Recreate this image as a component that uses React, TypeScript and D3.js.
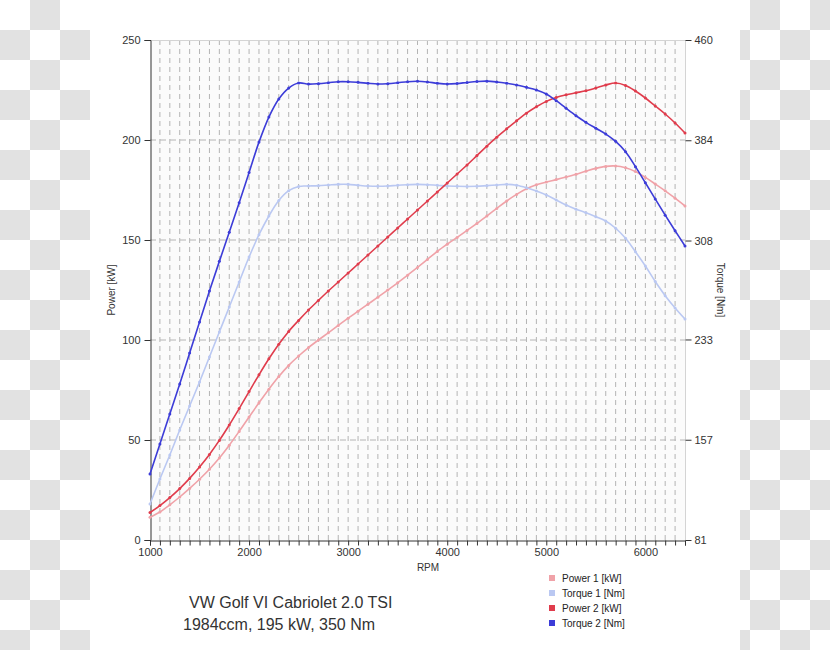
import React, { useEffect, useRef } from "react";
import * as d3 from "d3";

// engine speed, every 100 rpm
const rpm = [
  1000, 1100, 1200, 1300, 1400, 1500, 1600, 1700, 1800, 1900,
  2000, 2100, 2200, 2300, 2400, 2500, 2600, 2700, 2800, 2900,
  3000, 3100, 3200, 3300, 3400, 3500, 3600, 3700, 3800, 3900,
  4000, 4100, 4200, 4300, 4400, 4500, 4600, 4700, 4800, 4900,
  5000, 5100, 5200, 5300, 5400, 5500, 5600, 5700, 5800, 5900,
  6000, 6100, 6200, 6300, 6400,
];

// kW
const power1 = [
  11.4, 14, 17.6, 21.5, 25.8, 30.4, 35.4, 41, 47.4, 54.3,
  61.5, 68.6, 75.4, 81.7, 87.3, 92, 96.2, 100, 103.6, 107.3,
  110.9, 114.4, 117.9, 121.4, 125, 128.6, 132.4, 136.3, 140.3, 144.3,
  147.9, 151.3, 154.8, 158.3, 162, 165.8, 169.5, 172.8, 175.6, 177.6,
  179, 180.2, 181.5, 182.9, 184.4, 185.8, 186.8, 187, 186.1, 184.2,
  181.3, 178, 174.6, 170.9, 167,
];

// Nm
const torque1 = [
  108.3, 127.2, 145.4, 164.4, 182.6, 200.8, 219.7, 238.7, 257.6, 276.6,
  295.5, 312.4, 326.6, 338.3, 345.8, 349, 349.3, 349.6, 350.1, 350.6,
  350.6, 349.9, 349.3, 349.1, 349.3, 349.9, 350.3, 350.6, 350.3, 349.9,
  349.3, 349.1, 349, 349.1, 349.6, 350.1, 350.6, 349.9, 348, 345.5,
  342.5, 338.7, 334.9, 331.7, 329.1, 326.1, 322.8, 317.3, 309.7, 299.5,
  288.7, 276.9, 266.2, 256.9, 248.5,
];

// kW
const power2 = [
  13.7, 17.2, 21.2, 25.7, 30.8, 36.5, 42.8, 49.8, 57.5, 65.7,
  74.2, 82.6, 90.6, 97.9, 104.3, 109.8, 115, 119.8, 124.5, 129,
  133.5, 138, 142.5, 147, 151.5, 156, 160.5, 165, 169.5, 174,
  178.5, 183, 187.5, 192.2, 196.9, 201.4, 205.6, 209.6, 213.4, 216.6,
  219.3, 221.3, 222.6, 223.6, 224.6, 226, 227.5, 228.5, 227.3, 224.5,
  221, 217, 213, 208.5, 203.5,
];

// Nm
const torque2 = [
  131, 153.8, 176.5, 199.2, 222.7, 246.2, 269.7, 292.2, 314.2, 336.6,
  359.6, 382.6, 401.6, 415.3, 423.6, 427.4, 426.6, 426.9, 427.6, 428.4,
  428.4, 427.9, 427.2, 426.6, 426.9, 427.6, 428.4, 428.7, 428.2, 427.2,
  426.6, 427, 427.8, 428.5, 428.8, 428.2, 427.2, 425.9, 424.1, 422.1,
  419.1, 414, 408.2, 402.6, 397.6, 393.1, 388.7, 383.2, 375.3, 364,
  351.8, 339.4, 327.2, 315.4, 303.9,
];

const powerTicks = [0, 50, 100, 150, 200, 250];
const torqueTicks = [81, 157, 233, 308, 384, 460];
const rpmTicks = [1000, 2000, 3000, 4000, 5000, 6000];

const seriesNames = ["Power 1 [kW]", "Torque 1 [Nm]", "Power 2 [kW]", "Torque 2 [Nm]"];
const seriesColors = ["#f0a2a8", "#bac8f2", "#e03c4c", "#3c3cd8"];

const titleLines = ["VW Golf VI Cabriolet 2.0 TSI", "1984ccm, 195 kW, 350 Nm"];

const App = () => {
  const ref = useRef<SVGSVGElement>(null);

  useEffect(() => {
    const width = 830;
    const height = 650;
    const left = 150, right = 685, top = 40, bottom = 540;
    const font = "'Liberation Sans', Arial, sans-serif";

    const svg = d3.select(ref.current);
    svg.selectAll("*").remove();

    // checkered transparency backdrop
    svg.append("rect").attr("width", width).attr("height", height).attr("fill", "#fff");
    const cells: { x: number; y: number }[] = [];
    for (let cx = 0; cx < width; cx += 30) {
      for (let cy = 0; cy < height; cy += 30) {
        if ((cx / 30 + cy / 30) % 2 === 1 && (cx < 90 || cx + 30 > 740)) cells.push({ x: cx, y: cy });
      }
    }
    svg.append("g").selectAll("rect").data(cells).enter().append("rect")
      .attr("x", d => Math.max(d.x, d.x < 90 ? d.x : 740))
      .attr("y", d => d.y)
      .attr("width", d => (d.x < 740 && d.x >= 90 ? d.x + 30 - 740 : 30))
      .attr("height", 30)
      .attr("fill", "#e2e2e2");

    const x = d3.scaleLinear().domain([1000, 6400]).range([left, right]);
    const yP = d3.scaleLinear().domain([0, 250]).range([bottom, top]);
    const yT = d3.scaleLinear().domain([81, 460]).range([bottom, top]);

    svg.append("rect")
      .attr("x", left).attr("y", top)
      .attr("width", right - left).attr("height", bottom - top)
      .attr("fill", "#fbfbfb");

    // grid
    const minor = rpm.filter(r => r > 1000 && r < 6400);
    svg.append("g").selectAll("line").data(minor).enter().append("line")
      .attr("x1", d => x(d)).attr("x2", d => x(d))
      .attr("y1", top).attr("y2", bottom)
      .attr("stroke", "#b4b4b4").attr("stroke-dasharray", "5,4");
    svg.append("g").selectAll("line").data(powerTicks.filter(t => t > 0 && t < 250)).enter().append("line")
      .attr("x1", left).attr("x2", right)
      .attr("y1", d => yP(d)).attr("y2", d => yP(d))
      .attr("stroke", "#b4b4b4").attr("stroke-dasharray", "6,4");
    svg.append("line").attr("x1", left).attr("x2", right).attr("y1", top + 0.5).attr("y2", top + 0.5)
      .attr("stroke", "#d4d4d4");
    svg.append("line").attr("x1", right + 0.5).attr("x2", right + 0.5).attr("y1", top).attr("y2", bottom)
      .attr("stroke", "#d4d4d4");

    // axes
    const axisColor = "#333";
    const lAxis = svg.append("g").attr("transform", `translate(${left + 0.5},0)`)
      .call(d3.axisLeft(yP).tickValues(powerTicks).tickSize(6).tickPadding(4));
    const rAxis = svg.append("g").attr("transform", `translate(${right + 0.5},0)`)
      .call(d3.axisRight(yT).tickValues(torqueTicks).tickSize(6).tickPadding(3));
    const bAxis = svg.append("g").attr("transform", `translate(0,${bottom + 0.5})`)
      .call(d3.axisBottom(x).tickValues(rpm).tickSize(5).tickPadding(3)
        .tickFormat(d => (rpmTicks.includes(+d) ? String(d) : "")));
    [lAxis, rAxis, bAxis].forEach(g => {
      g.select(".domain").attr("stroke", axisColor);
      g.selectAll(".tick line").attr("stroke", axisColor);
      g.selectAll("text").attr("fill", "#333").style("font-family", font).style("font-size", "11px");
    });
    rAxis.select(".domain").remove();

    svg.append("text").attr("transform", "translate(115,290) rotate(-90)")
      .attr("text-anchor", "middle").attr("fill", "#333")
      .style("font-family", font).style("font-size", "10px").text("Power [kW]");
    svg.append("text").attr("transform", "translate(717,290) rotate(90)")
      .attr("text-anchor", "middle").attr("fill", "#333")
      .style("font-family", font).style("font-size", "10px").text("Torque [Nm]");
    svg.append("text").attr("x", 428).attr("y", 571)
      .attr("text-anchor", "middle").attr("fill", "#333")
      .style("font-family", font).style("font-size", "10px").text("RPM");

    // curves
    const series = [
      { values: power1, y: yP },
      { values: torque1, y: yT },
      { values: power2, y: yP },
      { values: torque2, y: yT },
    ];
    series.forEach((s, i) => {
      const pts: [number, number][] = rpm.map((r, j) => [x(r), s.y(s.values[j])]);
      svg.append("path")
        .attr("d", d3.line().curve(d3.curveCatmullRom)(pts))
        .attr("fill", "none")
        .attr("stroke", seriesColors[i])
        .attr("stroke-width", 1.6);
      svg.append("g").selectAll("circle").data(pts).enter().append("circle")
        .attr("cx", d => d[0]).attr("cy", d => d[1]).attr("r", 1.5)
        .attr("fill", seriesColors[i]);
    });

    // legend
    const lg = svg.append("g").attr("transform", "translate(549,578)");
    seriesNames.forEach((n, i) => {
      lg.append("rect").attr("x", 0).attr("y", i * 15 - 3).attr("width", 6).attr("height", 6)
        .attr("fill", seriesColors[i]);
      lg.append("text").attr("x", 13).attr("y", i * 15 + 3.5).attr("fill", "#222")
        .style("font-family", font).style("font-size", "10px").text(n);
    });

    // caption
    svg.append("text").attr("x", 189).attr("y", 608).attr("fill", "#333")
      .style("font-family", font).style("font-size", "16px").text(titleLines[0]);
    svg.append("text").attr("x", 183).attr("y", 630).attr("fill", "#333")
      .style("font-family", font).style("font-size", "16px").text(titleLines[1]);
  }, []);

  return (
    <svg
      ref={ref}
      width={830}
      height={650}
      style={{ position: "absolute", left: 0, top: 0, display: "block" }}
    ></svg>
  );
};

export default App;
